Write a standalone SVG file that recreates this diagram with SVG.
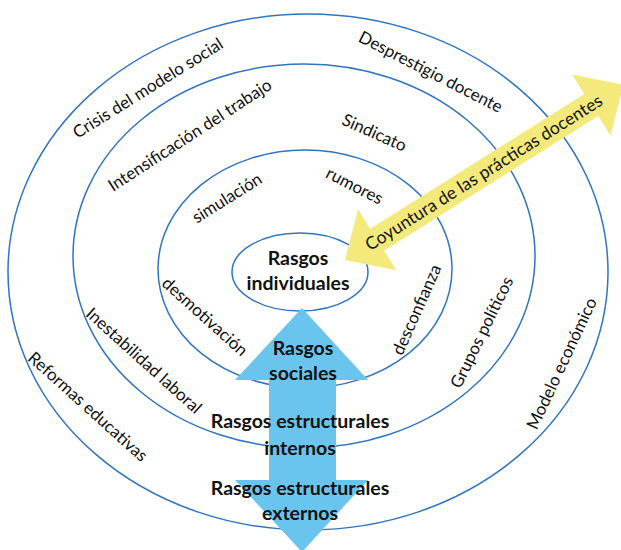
<svg xmlns="http://www.w3.org/2000/svg" width="621" height="550" viewBox="0 0 621 550">
  <style>
    .ring { fill: #ffffff; stroke: #2f74c0; stroke-width: 1.5; }
    .lbl { font-family: Lato, "Open Sans", "Liberation Sans", sans-serif; font-size: 17px; fill: #111111; text-anchor: middle; }
    .big { font-size: 17.5px; }
    .bold { font-family: Lato, "Open Sans", "Liberation Sans", sans-serif; font-size: 19.5px; font-weight: bold; fill: #111111; text-anchor: middle; }
    .yarrow { fill: #f4ea7b; }
    .barrow { fill: #6ac5ee; }
  </style>

  <!-- concentric rings, outermost first -->
  <g id="ring-outer">
    <ellipse class="ring" cx="308" cy="272" rx="300" ry="258"/>
    <text class="lbl" transform="translate(151,93) rotate(-32)">Crisis del modelo social</text>
    <text class="lbl" transform="translate(428,77) rotate(27)">Desprestigio docente</text>
    <text class="lbl" transform="translate(84,411) rotate(42)">Reformas educativas</text>
    <text class="lbl" transform="translate(567,366) rotate(-65)">Modelo económico</text>
  </g>

  <g id="ring-second">
    <ellipse class="ring" cx="304" cy="256" rx="231" ry="192"/>
    <text class="lbl" transform="translate(193,140) rotate(-33)">Intensificación del trabajo</text>
    <text class="lbl" transform="translate(372,138) rotate(24)">Sindicato</text>
    <text class="lbl" transform="translate(140,365) rotate(42)">Inestabilidad laboral</text>
    <text class="lbl" transform="translate(487,335) rotate(-64)">Grupos políticos</text>
  </g>

  <g id="ring-third">
    <ellipse class="ring" cx="305" cy="269" rx="147" ry="119"/>
    <text class="lbl" transform="translate(230,203) rotate(-32)">simulación</text>
    <text class="lbl" transform="translate(352,191) rotate(27)">rumores</text>
    <text class="lbl" transform="translate(201,321) rotate(42)">desmotivación</text>
    <text class="lbl" transform="translate(422,312) rotate(-66)">desconfianza</text>
  </g>

  <g id="ring-core">
    <ellipse class="ring" cx="300" cy="272" rx="68" ry="39"/>
  </g>

  <!-- double arrows -->
  <g id="connectors">
    <polygon class="yarrow" transform="translate(345,260) rotate(-32.2)"
             points="0,0 38,-36 38,-13 291,-13 291,-36 329,0 291,36 291,13 38,13 38,36"/>
    <polygon class="barrow"
             points="302,308 368,380 336,380 336,480 368,480 302,552 235,480 269,480 269,380 235,380"/>
  </g>

  <g id="label-coyuntura">
    <text class="lbl big" transform="translate(345,260) rotate(-32.2) translate(164,6)">Coyuntura de las prácticas docentes</text>
  </g>

  <g id="node-individuales">
    <text class="bold" x="298" y="265">Rasgos</text>
    <text class="bold" x="298" y="290">individuales</text>
  </g>
  <g id="node-sociales">
    <text class="bold" x="303" y="355">Rasgos</text>
    <text class="bold" x="303" y="380">sociales</text>
  </g>
  <g id="node-internos">
    <text class="bold" x="300" y="428">Rasgos estructurales</text>
    <text class="bold" x="300" y="455">internos</text>
  </g>
  <g id="node-externos">
    <text class="bold" x="300" y="495">Rasgos estructurales</text>
    <text class="bold" x="300" y="520">externos</text>
  </g>
</svg>
